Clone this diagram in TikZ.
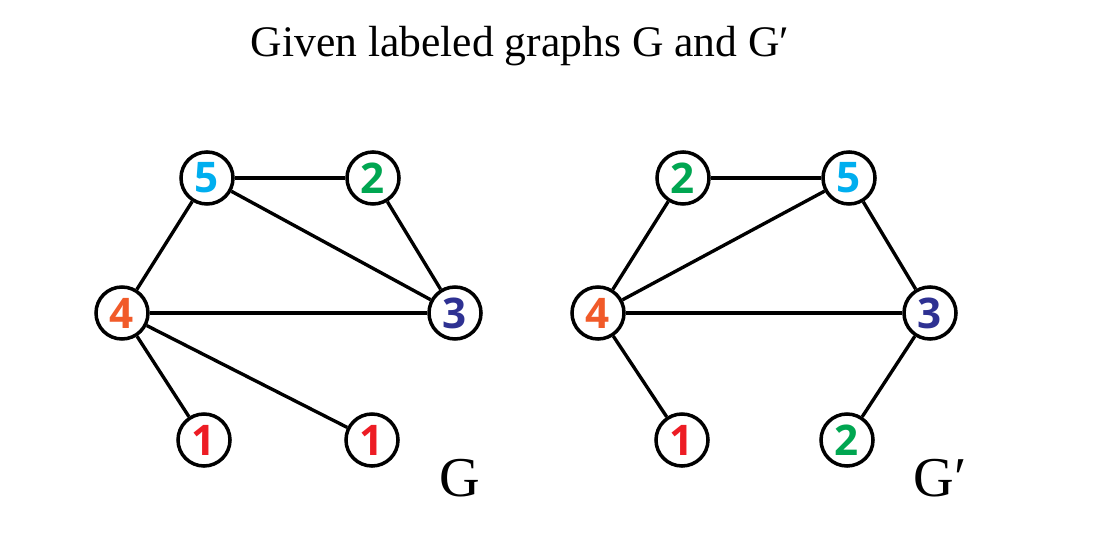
\documentclass[tikz,border=0pt]{standalone}
\usepackage{fontspec}
\setmainfont{Liberation Serif}
\newfontfamily\digitfont{Open Sans}
\usetikzlibrary{positioning}

\definecolor{labcyan}{RGB}{0,174,239}
\definecolor{labgreen}{RGB}{0,166,81}
\definecolor{laborange}{RGB}{241,90,41}
\definecolor{labnavy}{RGB}{46,49,146}
\definecolor{labred}{RGB}{237,28,36}

\begin{document}
\begin{tikzpicture}[
    x=0.025cm, y=-0.025cm,
    vtx/.style={circle, draw, line width=2.5pt, fill=white, minimum size=1.3cm, inner sep=0pt,
      font=\digitfont\bfseries\fontsize{30}{30}\selectfont},
    edge/.style={line width=2.4pt},
    gname/.style={font=\fontsize{40}{40}\selectfont}
  ]
    \useasboundingbox (0,0) rectangle (1108,543);

    \node[font=\fontsize{31}{31}\selectfont] (title) at (520,46) {Given labeled graphs G and G′};

    % graph G
    \node[vtx, text=labcyan] (g5) at (207,178) {5};
    \node[vtx, text=labgreen] (g2) at (373,178) {2};
    \node[vtx, text=laborange] (g4) at (122,313) {4};
    \node[vtx, text=labnavy] (g3) at (455,313) {3};
    \node[vtx, text=labred] (g1a) at (204,440) {1};
    \node[vtx, text=labred] (g1b) at (372,440) {1};
    \node[gname] (gG) at (460,478) {G};

    % graph G'
    \node[vtx, text=labgreen] (h2) at (683,178) {2};
    \node[vtx, text=labcyan] (h5) at (849,178) {5};
    \node[vtx, text=laborange] (h4) at (598,313) {4};
    \node[vtx, text=labnavy] (h3) at (930,313) {3};
    \node[vtx, text=labred] (h1) at (682,440) {1};
    \node[vtx, text=labgreen] (h2b) at (847,440) {2};
    \node[gname] (hG) at (940,478) {G′};

    \draw[edge] (g5)--(g2);
    \draw[edge] (g5)--(g4);
    \draw[edge] (g5)--(g3);
    \draw[edge] (g2)--(g3);
    \draw[edge] (g4)--(g3);
    \draw[edge] (g4)--(g1a);
    \draw[edge] (g4)--(g1b);

    \draw[edge] (h2)--(h5);
    \draw[edge] (h2)--(h4);
    \draw[edge] (h5)--(h4);
    \draw[edge] (h5)--(h3);
    \draw[edge] (h4)--(h3);
    \draw[edge] (h4)--(h1);
    \draw[edge] (h3)--(h2b);
\end{tikzpicture}
\end{document}
